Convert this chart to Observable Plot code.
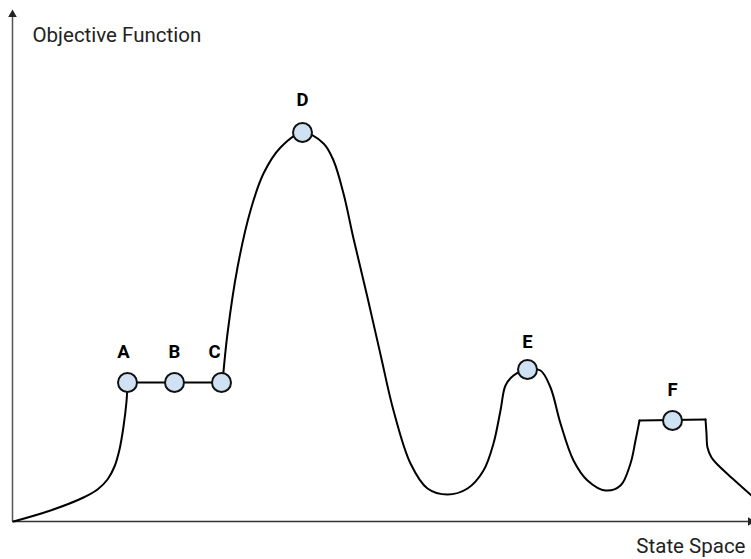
<!DOCTYPE html>
<html>
<head>
<meta charset="utf-8">
<script src="https://cdn.jsdelivr.net/npm/d3@7"></script>
<script src="https://cdn.jsdelivr.net/npm/@observablehq/plot@0.6"></script>
<style>
  html, body { margin: 0; padding: 0; background: #fff; }
</style>
</head>
<body>
<div id="chart"></div>
<script>
// Landscape (state-space position, objective value)
const smoothSegments = [
  // origin up to A
  [[1,0],[38,11],[71,24],[85,32],[95,42],[102,55],[107,72],[111,95],[114,120],[115,139]],
  // C up to D, down to valley, up to E, down to valley, up to F plateau
  [[210,139],[215,188],[225,254],[238,311],[251,348],[268,374],[290,389],[311,378],[321,361],[331,328],[341,283],[355,224],[368,167],[381,111],[398,58],[415,33],[435,27],[455,33],[471,51],[481,78],[488,111],[493,136],[501,146],[515,152],[528,151],[538,134],[548,98],[561,61],[575,41],[593,31],[608,36],[618,58],[623,81],[627,101]],
  // after F plateau
  [[693,102],[694,88],[695,74],[699,64],[706,56],[720,43],[739,26]]
];
const flatSegments = [
  [[115,139],[210,139]],   // A - B - C shoulder
  [[627,101],[693,102]]    // F plateau
];
const stateNames = ["A","B","C","D","E","F"];
const stateX = [115, 162, 209, 290, 515, 660];
const stateY = [139, 139, 139, 389, 152, 101];

const toRows = (segs) => segs.flatMap((s, i) => s.map(([x, y]) => ({seg: i, x, y})));
const smoothRows = toRows(smoothSegments);
const flatRows = toRows(flatSegments);
const states = stateNames.map((name, i) => ({name, x: stateX[i], y: stateY[i]}));

const labelStyle = {x: "x", y: "y", text: "name", dy: -30, fontWeight: "bold", fontSize: 18.5, fill: "#000"};

const chart = Plot.plot({
  width: 751,
  height: 559,
  marginLeft: 12,
  marginRight: 0,
  marginTop: 8,
  marginBottom: 38,
  x: {domain: [0, 739], axis: null},
  y: {domain: [0, 513], axis: null},
  style: {fontFamily: "Roboto, sans-serif", background: "#fff", overflow: "visible"},
  marks: [
    Plot.ruleX([0], {y1: 0, y2: 507, stroke: "#555", strokeWidth: 1.5}),
    Plot.ruleY([0], {x1: 0, x2: 739, stroke: "#333", strokeWidth: 1.5}),
    Plot.dot([{x: 0, y: 507}], {x: "x", y: "y", symbol: "triangle", r: 3.2, fill: "#222", stroke: null}),
    Plot.dot([{x: 738, y: 0}], {x: "x", y: "y", symbol: "triangle", r: 3.2, rotate: 90, fill: "#222", stroke: null}),
    Plot.line(smoothRows, {x: "x", y: "y", z: "seg", curve: "catmull-rom", stroke: "#000", strokeWidth: 2}),
    Plot.line(flatRows, {x: "x", y: "y", z: "seg", curve: "linear", stroke: "#000", strokeWidth: 2}),
    Plot.dot(states, {x: "x", y: "y", r: 9.5, fill: "#cfe2f3", stroke: "#111", strokeWidth: 2}),
    Plot.text(states.filter((d) => ["B", "F"].includes(d.name)), {...labelStyle}),
    Plot.text(states.filter((d) => d.name === "D"), {...labelStyle, dy: -32}),
    Plot.text(states.filter((d) => d.name === "E"), {...labelStyle, dy: -27}),
    Plot.text(states.filter((d) => d.name === "A"), {...labelStyle, dx: -4}),
    Plot.text(states.filter((d) => d.name === "C"), {...labelStyle, dx: -7}),
    Plot.text(["Objective Function"], {frameAnchor: "top-left", dx: 20, dy: 27, textAnchor: "start",
      lineAnchor: "middle", fontSize: 20.5, fill: "#222"}),
    Plot.text(["State Space"], {frameAnchor: "bottom-right", dx: -6, dy: 25, textAnchor: "end",
      lineAnchor: "middle", fontSize: 20.5, fill: "#222"})
  ]
});
document.getElementById("chart").appendChild(chart);
</script>
</body>
</html>
